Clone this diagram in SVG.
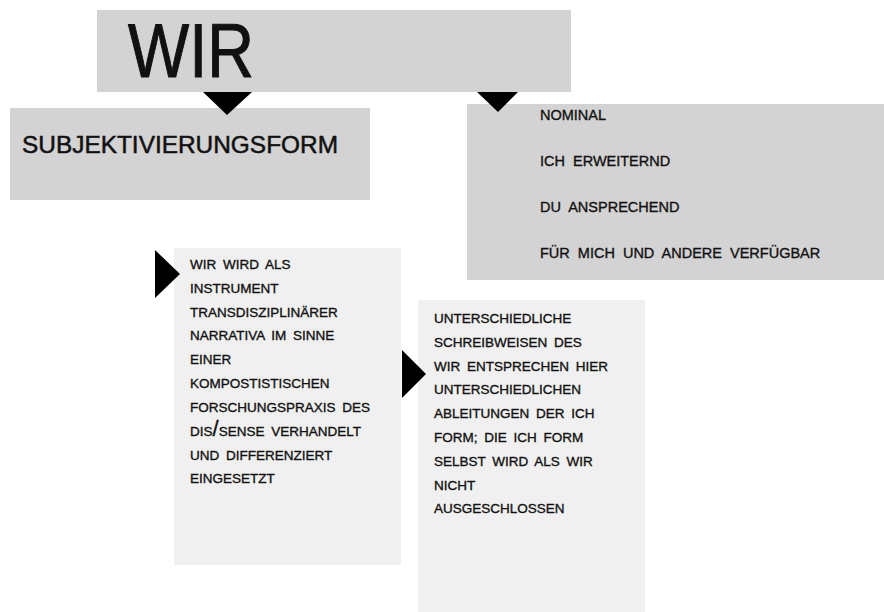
<svg xmlns="http://www.w3.org/2000/svg" width="884" height="612" viewBox="0 0 884 612">
<style>
.dark{fill:#d3d3d3}
.light{fill:#f0f0f0}
.arrow{fill:#000}
text{font-family:"Liberation Sans",Arial,sans-serif;fill:#111;stroke:#111;stroke-width:0.35px}
.body{font-size:13.5px;word-spacing:3px}
.list{font-size:14.5px;word-spacing:4px}
.big{stroke-width:1px}
.title{stroke-width:0.5px}
</style>
<rect width="884" height="612" fill="#fff"/>
<g id="wir">
<rect class="dark" x="97" y="10" width="474" height="82"/>
<text class="big" x="128" y="77" font-size="76" textLength="126" lengthAdjust="spacingAndGlyphs">WIR</text>
</g>
<g id="subjektivierungsform">
<rect class="dark" x="10" y="108" width="360" height="92"/>
<text class="title" x="22" y="153" font-size="24" textLength="316" lengthAdjust="spacingAndGlyphs">SUBJEKTIVIERUNGSFORM</text>
</g>
<g id="eigenschaften">
<rect class="dark" x="467" y="104" width="417" height="176"/>
<text class="list" x="540" y="120">NOMINAL</text>
<text class="list" x="540" y="166">ICH ERWEITERND</text>
<text class="list" x="540" y="212">DU ANSPRECHEND</text>
<text class="list" x="540" y="258">FÜR MICH UND ANDERE VERFÜGBAR</text>
</g>
<g id="instrument">
<rect class="light" x="174" y="248" width="227" height="317"/>
<text class="body" x="190" y="269">WIR WIRD ALS</text>
<text class="body" x="190" y="293">INSTRUMENT</text>
<text class="body" x="190" y="317">TRANSDISZIPLINÄRER</text>
<text class="body" x="190" y="340">NARRATIVA IM SINNE</text>
<text class="body" x="190" y="364">EINER</text>
<text class="body" x="190" y="388">KOMPOSTISTISCHEN</text>
<text class="body" x="190" y="412">FORSCHUNGSPRAXIS DES</text>
<text class="body" x="190" y="436">DIS<tspan font-size="22">/</tspan>SENSE VERHANDELT</text>
<text class="body" x="190" y="460">UND DIFFERENZIERT</text>
<text class="body" x="190" y="483">EINGESETZT</text>
</g>
<g id="schreibweisen">
<rect class="light" x="418" y="300" width="227" height="312"/>
<text class="body" x="434" y="323">UNTERSCHIEDLICHE</text>
<text class="body" x="434" y="347">SCHREIBWEISEN DES</text>
<text class="body" x="434" y="371">WIR ENTSPRECHEN HIER</text>
<text class="body" x="434" y="394">UNTERSCHIEDLICHEN</text>
<text class="body" x="434" y="418">ABLEITUNGEN DER ICH</text>
<text class="body" x="434" y="442">FORM; DIE ICH FORM</text>
<text class="body" x="434" y="466">SELBST WIRD ALS WIR</text>
<text class="body" x="434" y="490">NICHT</text>
<text class="body" x="434" y="513">AUSGESCHLOSSEN</text>
</g>
<g id="connectors">
<polygon class="arrow" points="203,92 252,92 227,115"/>
<polygon class="arrow" points="477,92 518,92 498,112"/>
<polygon class="arrow" points="155,250 180,274 155,298"/>
<polygon class="arrow" points="402,350 426,374 402,398"/>
</g>
</svg>
